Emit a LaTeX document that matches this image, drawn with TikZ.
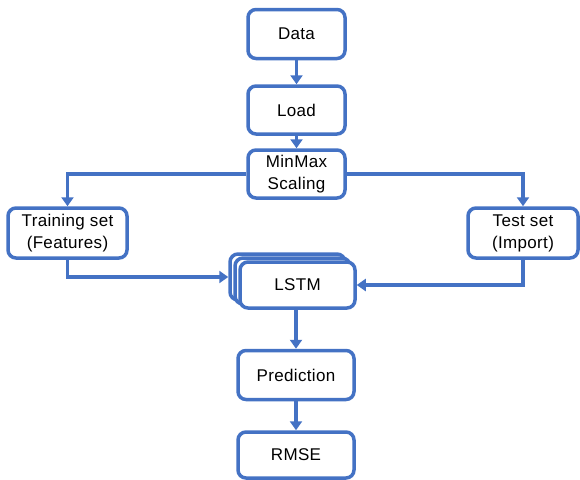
\documentclass[tikz,border=0pt]{standalone}
\usepackage{fontspec}
\setmainfont{Liberation Sans}[LetterSpace=2]
\usetikzlibrary{arrows.meta}
\definecolor{bl}{HTML}{4472C4}
\begin{document}
\begin{tikzpicture}[x=1pt,y=-1pt,
  box/.style={draw=bl,line width=3.5pt,rounded corners=8pt,fill=white,align=center,font=\fontsize{17}{22}\selectfont,inner sep=0pt},
  conn/.style={draw=bl,line width=3.5pt,-{Triangle[width=12pt,length=9pt]}}]
\useasboundingbox (0,0) rectangle (580,479);
\node[box,minimum width=97pt,minimum height=49pt] (data) at (296.5,34) {Data};
\node[box,minimum width=97pt,minimum height=48pt] (load) at (296.5,110) {Load};
\node[box,minimum width=97pt,minimum height=48pt] (mm) at (296.5,174) {MinMax\\Scaling};
\node[box,minimum width=119pt,minimum height=50pt] (train) at (67.5,233) {Training set\\(Features)};
\node[box,minimum width=110pt,minimum height=50pt] (test) at (523,233) {Test set\\(Import)};
\node[box,minimum width=115pt,minimum height=46pt] (l3) at (287.5,277) {};
\node[box,minimum width=115pt,minimum height=46pt] (l2) at (292.5,281) {};
\node[box,minimum width=115pt,minimum height=46pt] (lstm) at (297.5,285) {LSTM};
\node[box,minimum width=116pt,minimum height=49pt] (pred) at (296,375) {Prediction};
\node[box,minimum width=116pt,minimum height=46pt] (rmse) at (296,455) {RMSE};
\draw[conn] (data) -- (load);
\draw[conn] (load) -- (mm);
\draw[conn] (mm.west) -| (train.north);
\draw[conn] (mm.east) -| (test.north);
\draw[conn] (train.south) |- (l3.west);
\draw[conn] (test.south) |- (lstm.east);
\draw[conn] (pred.north |- lstm.south) -- (pred.north);
\draw[conn] (pred) -- (rmse);
\end{tikzpicture}
\end{document}
